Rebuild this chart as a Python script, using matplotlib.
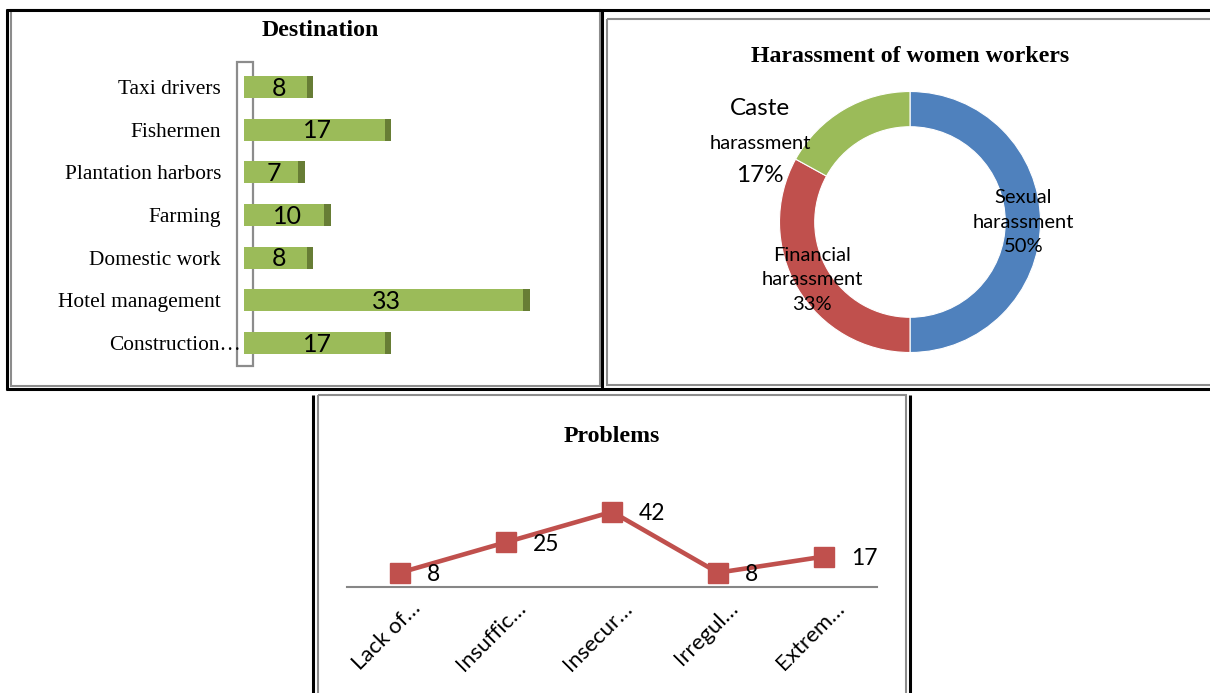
import numpy as np
import matplotlib
matplotlib.use("Agg")
import matplotlib.pyplot as plt
from matplotlib.patches import Rectangle
from matplotlib.transforms import ScaledTranslation

# --- data ---
dest_labels = ["Taxi drivers", "Fishermen", "Plantation harbors", "Farming",
               "Domestic work", "Hotel management", "Construction\u2026"]
dest_values = [8, 17, 7, 10, 8, 33, 17]

har_labels = ["Sexual\nharassment\n50%", "Financial\nharassment\n33%", "Caste"]
har_values = [50, 33, 17]

prob_labels = ["Lack of\u2026", "Insuffic\u2026", "Insecur\u2026", "Irregul\u2026", "Extrem\u2026"]
prob_values = [8, 25, 42, 8, 17]

GREEN = "#9BBB59"
GREEN_DARK = "#677D35"
BLUE = "#4F81BD"
RED = "#C0504D"
GRAY = "#8C8C8C"
SERIF = "Liberation Serif"
SANS = "Lato"

W, H = 1210, 693
fig = plt.figure(figsize=(W / 100, H / 100), dpi=100)


def px_axes(x0, y0, x1, y1, **kw):
    return fig.add_axes([x0 / W, 1 - y1 / H, (x1 - x0) / W, (y1 - y0) / H], **kw)


# --- frames (drawn in pixel space) ---
frame = px_axes(0, 0, W, H, zorder=-5)
frame.set_xlim(0, W)
frame.set_ylim(H, 0)
frame.axis("off")
blk = dict(color="black", lw=2.2, solid_capstyle="butt")
frame.plot([6, W], [10, 10], **blk)
frame.plot([6, W], [389, 389], **blk)
frame.plot([7, 7], [9, 390], **blk)
frame.plot([602, 602], [9, 390], **blk)
frame.plot([313, 313], [395, H], **blk)
frame.plot([910, 910], [395, H], **blk)
frame.add_patch(Rectangle((11, 10), 589, 376, fill=False, ec=GRAY, lw=1.5))
frame.add_patch(Rectangle((607, 19), 610, 366, fill=False, ec=GRAY, lw=1.5))
frame.add_patch(Rectangle((318, 395), 588, 320, fill=False, ec=GRAY, lw=1.5))

# --- Destination bar chart ---
ax1 = px_axes(244, 62, 580, 366)
k = 8.66
ax1.set_xlim(0, 336 / k)
ypos = np.arange(len(dest_values))
ax1.set_ylim(6 + 23 / 42.67, -25 / 42.67)
ax1.barh(ypos, dest_values, height=0.52, color=GREEN, zorder=3)
cap = 0.75
ax1.barh(ypos, [cap] * len(dest_values), left=np.array(dest_values) - cap,
         height=0.52, color=GREEN_DARK, zorder=4)
for y, v in zip(ypos, dest_values):
    ax1.text(v / 2, y + 0.03, str(v), ha="center", va="center", fontsize=18,
             family=SANS, zorder=5)
ax1.add_patch(Rectangle((-7 / k, 6 + 23 / 42.67), 16 / k, -(6 + 48 / 42.67),
                        fill=False, ec=GRAY, lw=1.6, clip_on=False, zorder=1))
ax1.set_yticks(ypos)
ax1.set_yticklabels(dest_labels, family=SERIF, fontsize=15.4)
ax1.tick_params(length=0, pad=16.5)
ax1.set_xticks([])
for s in ax1.spines.values():
    s.set_visible(False)
ax1.patch.set_alpha(0)
last = ax1.get_yticklabels()[-1]
last.set_transform(last.get_transform() + ScaledTranslation(20 / 100, 0, fig.dpi_scale_trans))
fig.text(320 / W, 1 - 31 / H, "Destination", ha="center", va="center",
         family=SERIF, fontsize=17.2, fontweight="bold")

# --- Harassment donut ---
r_px = 130.5
ax2 = px_axes(910 - r_px, 222 - r_px, 910 + r_px, 222 + r_px)
wedges, _ = ax2.pie(har_values, colors=[BLUE, RED, GREEN], startangle=90,
                    counterclock=False, radius=1,
                    wedgeprops=dict(width=0.27, edgecolor="white", linewidth=0.8))
ax2.set_xlim(-1, 1)
ax2.set_ylim(-1, 1)
for w, lab in zip(wedges[:2], har_labels[:2]):
    th = np.deg2rad((w.theta1 + w.theta2) / 2)
    ax2.text(0.87 * np.cos(th), 0.87 * np.sin(th), lab, ha="center", va="center",
             family=SANS, fontsize=14.5, linespacing=1.55)
ax2.text(-1.15, 0.866, "Caste", ha="center", va="center", family=SANS, fontsize=17.5)
ax2.text(-1.15, 0.605, "harassment", ha="center", va="center", family=SANS, fontsize=14.5)
ax2.text(-1.15, 0.36, "17%", ha="center", va="center", family=SANS, fontsize=17.5)
fig.text(910 / W, 1 - 57 / H, "Harassment of women workers", ha="center",
         va="center", family=SERIF, fontsize=17.2, fontweight="bold")

# --- Problems line chart ---
ax3 = px_axes(347, 470, 877, 587)
xs = np.arange(len(prob_values))
ax3.plot(xs, prob_values, color=RED, lw=3.3, marker="s", markersize=15,
         clip_on=False, zorder=3)
for x, v in zip(xs, prob_values):
    ax3.annotate(str(v), (x, v), xytext=(19.5, -1.5), textcoords="offset points",
                 ha="left", va="center", family=SANS, fontsize=16.5)
ax3.set_xlim(-0.5, len(prob_values) - 0.5)
ax3.set_ylim(0, 117 / 1.79)
ax3.set_yticks([])
ax3.set_xticks(xs)
ax3.set_xticklabels(prob_labels, rotation=45, ha="right", va="center",
                    rotation_mode="anchor", family=SANS, fontsize=16)
ax3.tick_params(axis="x", length=0, pad=13)
for lbl in ax3.get_xticklabels():
    lbl.set_transform(lbl.get_transform() + ScaledTranslation(17 / 100, 0, fig.dpi_scale_trans))
for name in ["top", "left", "right"]:
    ax3.spines[name].set_visible(False)
ax3.spines["bottom"].set_color("#868686")
ax3.spines["bottom"].set_linewidth(1.5)
ax3.patch.set_alpha(0)
fig.text(612 / W, 1 - 436 / H, "Problems", ha="center", va="center",
         family=SERIF, fontsize=17.2, fontweight="bold")

fig.savefig("out.png", dpi=100)
plt.close(fig)
